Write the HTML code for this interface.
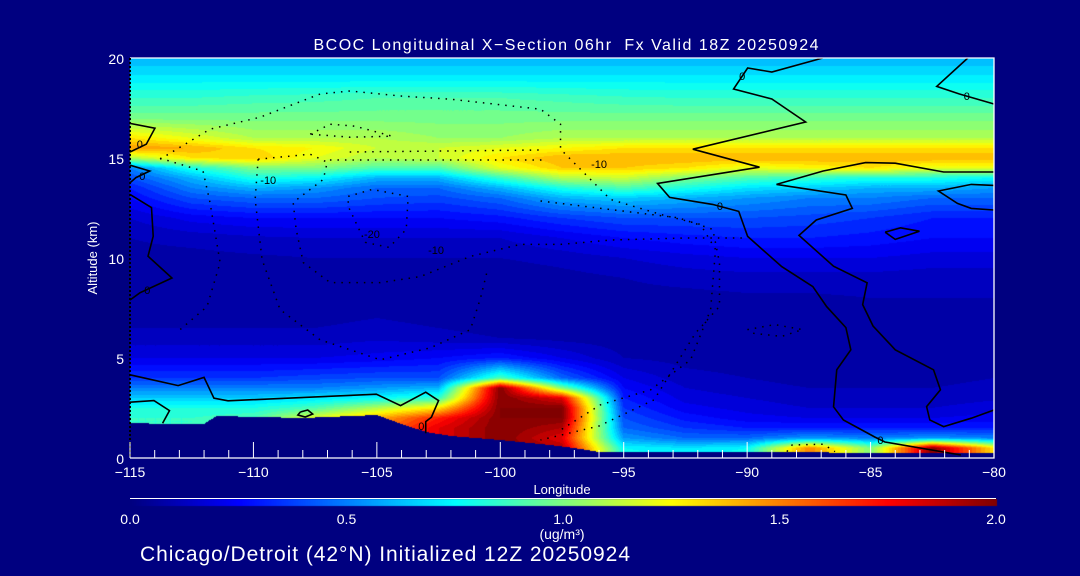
<!DOCTYPE html>
<html><head><meta charset="utf-8"><style>
html,body{margin:0;padding:0;background:#000080;}
#wrap{position:relative;width:1080px;height:576px;overflow:hidden;background:#000080;font-family:"Liberation Sans",sans-serif;}
canvas,svg{position:absolute;left:0;top:0;}
</style></head><body>
<div id="wrap">
<canvas id="cv" width="1080" height="576"></canvas>
<svg id="sv" width="1080" height="576"></svg>
</div>
<script>
// ---- data ----
const lons = [-115,-112.5,-110,-107.5,-105,-102.5,-100,-97.5,-95,-92.5,-90,-87.5,-85,-82.5,-80];
const alts = [0,0.5,1,1.5,2,2.5,3,3.5,4,5,6,7,8,9,10,11,12,13,13.5,14,14.5,15,15.5,16,17,18,19,20];
const v0   = [.85,.85,.9,1.2,1.5,1.8,2.0,1.9,.8,.75,.8,1.5,1.0,2.0,1.3];
const v05  = [.85,.85,.9,1.2,1.5,1.8,2.0,1.9,.75,.7,.75,1.5,1.0,2.0,1.3];
const v1   = [.85,.85,.9,1.2,1.5,1.8,2.0,1.8,.55,.45,.45,.55,.5,.55,.5];
const v15  = [.85,.85,.9,1.2,1.5,1.8,2.0,1.9,.45,.35,.3,.3,.3,.3,.3];
const v2   = [.85,.85,.9,1.2,1.4,1.7,2.0,2.0,.4,.28,.22,.2,.2,.2,.22];
const v25  = [.8,.8,.8,.9,1.1,1.3,2.0,2.0,.35,.22,.18,.15,.15,.15,.18];
const v3   = [.65,.65,.65,.7,.75,.85,2.0,1.8,.3,.18,.15,.12,.12,.12,.14];
const v35  = [.5,.5,.5,.5,.55,.6,2.0,1.0,.25,.15,.12,.1,.1,.1,.12];
const v4   = [.35,.35,.35,.38,.4,.4,.9,.45,.2,.12,.1,.08,.08,.08,.1];
const v5   = [.2,.2,.2,.2,.22,.25,.3,.2,.1,.08,.07,.06,.06,.06,.07];
const v6   = [.12,.12,.12,.12,.14,.12,.1,.08,.07,.06,.06,.06,.06,.06,.06];
const v7   = [.08,.08,.08,.08,.1,.08,.06,.06,.06,.06,.06,.07,.08,.08,.08];
const v8   = [.07,.07,.07,.07,.07,.06,.05,.06,.08,.08,.09,.09,.1,.1,.1];
const v9   = [.07,.07,.07,.08,.08,.06,.06,.08,.1,.12,.13,.13,.13,.12,.12];
const v10  = [.08,.08,.09,.1,.1,.1,.1,.12,.15,.18,.2,.2,.2,.18,.18];
const v11  = [.1,.12,.14,.15,.15,.15,.15,.2,.25,.28,.3,.3,.28,.25,.25];
const v12  = [.15,.22,.25,.25,.25,.25,.28,.35,.4,.4,.4,.38,.35,.3,.3];
const v13  = [.25,.4,.45,.45,.4,.38,.45,.6,.65,.6,.55,.5,.5,.45,.45];
const v135 = [.3,.5,.6,.55,.45,.45,.6,.8,.9,.8,.7,.65,.6,.6,.55];
const v14  = [.4,.6,.8,.75,.6,.6,.85,1.1,1.15,1.0,.9,.85,.8,.8,.75];
const v145 = [.5,.8,1.0,1.0,.9,.9,1.2,1.35,1.35,1.3,1.2,1.25,1.3,1.2,1.2];
const v15k = [1.1,1.3,1.35,1.2,1.1,1.15,1.3,1.4,1.4,1.4,1.4,1.4,1.4,1.4,1.4];
const v155 = [1.45,1.4,1.3,1.25,1.15,1.15,1.2,1.25,1.3,1.3,1.3,1.3,1.3,1.3,1.3];
const v16  = [1.3,1.2,1.1,1.1,1.1,1.05,1.05,1.1,1.1,1.1,1.1,1.1,1.1,1.1,1.1];
const v17  = [.98,.98,.98,.98,.98,.98,.98,.98,.98,.98,.98,.98,.98,.98,.98];
const v18  = [.85,.85,.87,.88,.9,.9,.9,.88,.86,.85,.85,.85,.85,.85,.85];
const v19  = [.72,.72,.72,.72,.72,.72,.72,.72,.72,.72,.72,.72,.72,.72,.72];
const v20  = [.6,.6,.6,.6,.6,.6,.6,.6,.6,.6,.6,.6,.6,.6,.6];
const grid = [v0,v05,v1,v15,v2,v25,v3,v35,v4,v5,v6,v7,v8,v9,v10,v11,v12,v13,v135,v14,v145,v15k,v155,v16,v17,v18,v19,v20];
const groundLon = [-115,-113.5,-112,-111.5,-108,-106,-105,-104,-103,-102,-100,-98,-97,-96,-93,-90,-87,-85,-82,-80];
const groundAlt = [1.75,1.7,1.7,2.1,2.0,2.1,2.15,1.7,1.3,1.1,0.9,0.65,0.5,0.3,0.3,0.28,0.28,0.25,0.25,0.25];
const xTicks = [-115,-110,-105,-100,-95,-90,-85,-80];
const yTicks = [0,5,10,15,20];
const cbTicks = [0,0.5,1,1.5,2];
// solid contours (lon, alt pairs)
const solidContours = [
 [[-86.94,20],[-89.0,19.3],[-89.98,19.5],[-90.55,18.45],[-89.0,17.95],[-87.63,16.8],[-92.2,15.44],[-89.5,14.54],[-93.63,13.73],[-93.14,13.03],[-91.4,12.68],[-90.34,12.33],[-89.98,11.08],[-88.6,9.57],[-87.34,8.57],[-86.78,7.57],[-86,6.52],[-85.8,5.41],[-86.37,4.41],[-86.5,2.56],[-86.1,1.9],[-84.83,1.05],[-84.42,0.8],[-81.34,0.15]],
 [[-80,14.3],[-82.04,14.3],[-84.0,14.74],[-85.2,14.77],[-86.92,14.35],[-88.81,13.68],[-86.0,13.15],[-85.74,12.48],[-87.2,11.9],[-87.9,11.13],[-86.5,9.59],[-85.14,8.76],[-85.32,7.67],[-84.9,6.6],[-84.0,5.41],[-82.45,4.41],[-82.17,3.41],[-82.73,2.57],[-82.6,1.9],[-82.04,1.57],[-80.92,1.99],[-80,2.4]],
 [[-81.06,20],[-82.32,18.58],[-81.4,18.2],[-80,17.7]],
 [[-80,13.63],[-80.92,13.68],[-82.25,13.35],[-81.48,12.73],[-80.92,12.48],[-80,12.4]],
 [[-84.41,11.29],[-83.79,11.51],[-83.02,11.34],[-84.0,10.93],[-84.41,11.29]],
 [[-115,16.73],[-113.99,16.49],[-114.34,15.69],[-115,15.3]],
 [[-115,14.64],[-114.2,14.35],[-114.76,14.02],[-115,13.76]],
 [[-115,13.18],[-114.13,12.52],[-114.06,11.09],[-114.27,10.09],[-113.3,9.0],[-114.6,8.26],[-115,7.9]],
 [[-115,4.16],[-113.05,3.62],[-112.0,4.03],[-111.6,2.99],[-111.03,2.86],[-105.02,3.19],[-104.04,2.62],[-103.02,3.29],[-102.5,2.87],[-102.79,2.04],[-103.02,1.82],[-103.02,1.24]],
 [[-115,2.79],[-114.03,2.87],[-113.4,2.37],[-113.68,1.74]],
 [[-108.1,2.3],[-107.8,2.4],[-107.6,2.2],[-107.9,2.05],[-108.2,2.15],[-108.1,2.3]]
];
const dottedContours = [
 [[-113.78,14.94],[-111.76,16.44],[-109.73,17.04],[-107.3,18.2],[-106.08,18.35],[-104.05,18.1],[-102.02,17.94],[-98.37,17.44],[-97.56,16.69],[-97.56,15.44],[-95.54,12.93],[-93.51,12.18],[-91.89,11.68],[-91.28,10.43],[-91.48,7.42],[-92.29,4.91],[-93.91,3.41],[-95.94,2.66],[-97.56,1.4]],
 [[-113.78,14.99],[-112.04,14.34],[-111.76,12.78],[-111.35,9.77],[-111.88,7.57],[-112.97,6.42]],
 [[-109.81,14.94],[-107.7,15.19],[-107.01,14.79],[-107.17,13.93],[-108.39,12.78],[-108.27,11.43],[-107.98,9.77],[-106.89,8.77],[-104.86,8.77],[-103.24,9.07],[-101.21,10.08],[-99.19,10.68],[-97.56,10.68],[-95.5,10.9],[-92.5,11.0],[-90,11.0]],
 [[-109.81,14.94],[-109.93,12.93],[-109.65,9.92],[-108.92,7.42],[-107.3,5.91],[-104.86,4.91],[-102.83,5.51],[-101.21,6.42],[-100.8,8.0],[-100.5,9.5]],
 [[-106.16,13.08],[-105.19,13.43],[-103.73,13.08],[-103.81,11.43],[-104.5,10.53],[-105.47,10.78],[-106.16,12.58],[-106.16,13.08]],
 [[-107.7,16.19],[-106.89,16.69],[-105.88,16.59],[-104.38,16.09],[-106.08,16.04],[-107.7,16.19]],
 [[-106.1,15.3],[-98.4,15.4]],
 [[-106.9,14.9],[-98.2,14.9]],
 [[-89.99,6.42],[-88.88,6.67],[-87.76,6.42],[-88.6,6.08],[-89.86,6.25]],
 [[-98.37,12.85],[-95.58,12.43],[-92.79,12.01],[-91.39,11.43],[-91.12,9.76],[-91.12,7.58],[-92.09,6.25],[-93.77,2.91],[-96.0,1.6],[-98.37,0.9]],
 [[-88.39,0.32],[-88.18,0.65],[-86.92,0.69],[-86.44,0.32]]
];
const contourLabels = [["0",-114.6,15.7],["0",-114.5,14.1],["0",-114.3,8.4],["-10",-109.4,13.9],["-20",-105.2,11.2],["-10",-102.6,10.4],["-10",-96.0,14.7],["0",-91.1,12.6],["0",-90.2,19.1],["0",-81.1,18.1],["0",-84.6,0.9],["0",-103.2,1.6]];

// ---- axis functions ----
const X0=130, X1=994, Y0=458, Y1=58;
const xs = lon => X0 + (lon+115)*(X1-X0)/35;
const ys = alt => Y0 - alt*(Y0-Y1)/20;
const inv_x = px => -115 + (px-X0)*35/(X1-X0);
const inv_y = py => (Y0-py)*20/(Y0-Y1);

function jet(t){
  t=Math.max(0,Math.min(1,t));
  const c=v=>Math.round(255*Math.max(0,Math.min(1,v)));
  return [c(1.5-Math.abs(4*t-3)),c(1.5-Math.abs(4*t-2)),c(1.5-Math.abs(4*t-1))];
}
function findIdx(arr,v){ for(let i=0;i<arr.length-1;i++){ if(v<=arr[i+1]) return i;} return arr.length-2; }
function sample(lon,alt){
  const i=findIdx(lons,lon), j=findIdx(alts,alt);
  const fx=Math.max(0,Math.min(1,(lon-lons[i])/(lons[i+1]-lons[i])));
  const fy=Math.max(0,Math.min(1,(alt-alts[j])/(alts[j+1]-alts[j])));
  const a=grid[j][i],b=grid[j][i+1],c=grid[j+1][i],d=grid[j+1][i+1];
  return (a*(1-fx)+b*fx)*(1-fy)+(c*(1-fx)+d*fx)*fy;
}
function groundAt(lon){
  const i=findIdx(groundLon,lon);
  const f=(lon-groundLon[i])/(groundLon[i+1]-groundLon[i]);
  return groundAlt[i]*(1-f)+groundAlt[i+1]*f;
}
// ---- heatmap ----
const cv=document.getElementById('cv'); const ctx=cv.getContext('2d');
const img=ctx.createImageData(X1-X0,Y0-Y1);
for(let py=0;py<Y0-Y1;py++){
  const alt=inv_y(Y1+py+0.5);
  for(let px=0;px<X1-X0;px++){
    const lon=inv_x(X0+px+0.5);
    let col;
    if(alt<groundAt(lon)) col=[0,0,128];
    else { let v=sample(lon,alt); v=Math.floor(v/0.05)*0.05+0.025; col=jet(v/2); }
    const k=(py*(X1-X0)+px)*4;
    img.data[k]=col[0];img.data[k+1]=col[1];img.data[k+2]=col[2];img.data[k+3]=255;
  }
}
ctx.putImageData(img,X0,Y1);
// colorbar
for(let px=X0;px<=X1+2;px++){
  const c=jet((px-X0)/(X1+2-X0));
  ctx.fillStyle=`rgb(${c[0]},${c[1]},${c[2]})`;
  ctx.fillRect(px,499,1,7);
}

// ---- svg overlay ----
const NS='http://www.w3.org/2000/svg';
const sv=document.getElementById('sv');
function mk(tag,attrs,parent){const e=document.createElementNS(NS,tag);for(const k in attrs)e.setAttribute(k,attrs[k]);(parent||sv).appendChild(e);return e;}
function txt(s,x,y,size,anchor,extra){const t=mk('text',Object.assign({x:x,y:y,fill:'#fff','font-size':size,'text-anchor':anchor||'middle','font-family':'Liberation Sans, sans-serif'},extra||{}));t.textContent=s;return t;}

const gC=mk('g',{});


solidContours.forEach(c=>{
  const p=mk('polyline',{points:c.map(q=>xs(q[0])+','+ys(q[1])).join(' '),fill:'none',stroke:'#000','stroke-width':1.6},gC);
  
  
});
dottedContours.forEach(c=>{
  const p=mk('polyline',{points:c.map(q=>xs(q[0])+','+ys(q[1])).join(' '),fill:'none',stroke:'#000','stroke-width':1.5,'stroke-dasharray':'1.5 6'},gC);
  
  
});
contourLabels.forEach(l=>{
  const t=mk('text',{x:xs(l[1]),y:ys(l[2])+4,fill:'#000','font-size':11,'text-anchor':'middle','font-family':'Liberation Sans, sans-serif'},gC);
  t.textContent=l[0];
  
  
});

// frame
const fr=mk('path',{d:`M${X0},${Y1}H${X1}V${Y0}H${X0}`,fill:'none',stroke:'#fff','stroke-width':1.3});


const la=mk('line',{x1:X0,y1:Y1,x2:X0,y2:Y0,stroke:'#000','stroke-width':2,'stroke-dasharray':'2 2'});


// x ticks
for(let lon=-115;lon<=-80;lon++){
  const major=lon%5===0;
  const t=mk('line',{x1:xs(lon),x2:xs(lon),y1:Y0,y2:Y0-(major?16:8),stroke:'#fff','stroke-width':1});
  
  
}
xTicks.forEach(v=>{
  const t=txt(String(v).replace('-','\u2212'),xs(v),477,14);
  
  
});
yTicks.forEach(v=>{
  const t=txt(String(v),124,ys(v)+6,14,'end');
  
  
});
let t;
t=txt('BCOC Longitudinal X\u2212Section 06hr  Fx Valid 18Z 20250924',566,50,16,'middle',{textLength:505,lengthAdjust:'spacing'});

t.setAttribute('xml:space','preserve');t.style.whiteSpace='pre';
t=txt('Longitude',562,494,13);

t=txt('Altitude (km)',0,0,13,'middle',{transform:'translate(97,258) rotate(-90)'});

const cbl=mk('line',{x1:X0,x2:X1+2,y1:498.5,y2:498.5,stroke:'#fff','stroke-width':1});

cbTicks.forEach(v=>{
  const tt=txt(v.toFixed(1),X0+(X1+2-X0)*v/2,524,14);
  
  
});
t=txt('(ug/m\u00B3)',562,539,14);

t=txt('Chicago/Detroit (42\u00B0N) Initialized 12Z 20250924',140,561,21,'start',{textLength:490,lengthAdjust:'spacing'});

</script>
</body></html>
